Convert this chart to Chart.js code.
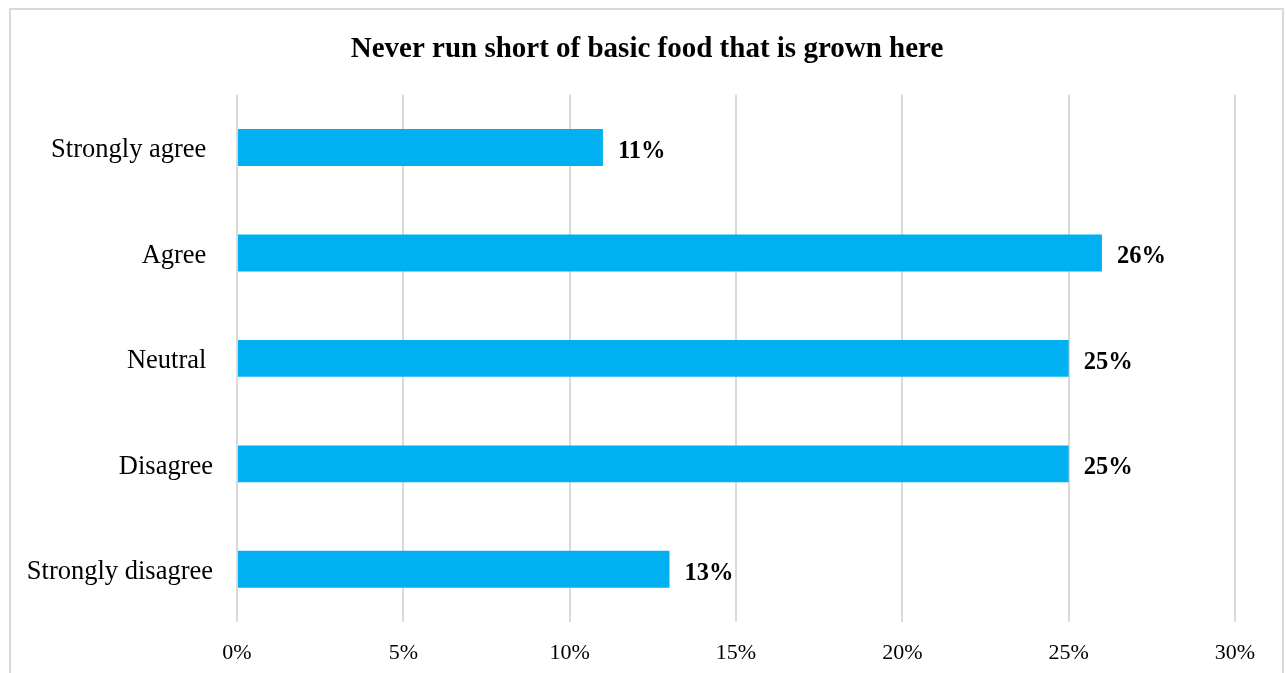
<!DOCTYPE html>
<html>
<head>
<meta charset="utf-8">
<script src="https://cdn.jsdelivr.net/npm/chart.js@4/dist/chart.umd.min.js"></script>
<style>
  html,body{margin:0;padding:0;background:#fff;overflow:hidden}
  #wrap{position:absolute;left:0;top:0;width:1286px;height:673px}
  #frame{position:absolute;left:9px;top:8px;width:1275px;height:700px;border:2px solid #d9d9d9;box-sizing:border-box}
  canvas{position:absolute;left:0;top:0}
</style>
</head>
<body>
<div id="wrap">
  <div id="frame"></div>
  <canvas id="c" width="1286" height="673"></canvas>
</div>
<script>
// categories (trailing spaces kept as in the original labels)
const categories=['Strongly agree ','Agree ','Neutral ','Disagree','Strongly disagree'];
const shares=[11,26,25,25,13];
const xTicks=[0,5,10,15,20,25,30];
const titleText='Never run short of basic food that is grown here';

const FONT="'Liberation Serif','Times New Roman',serif";

// draw the value labels at the end of each bar
const barLabels={
  id:'barLabels',
  afterDatasetsDraw(chart){
    const ctx=chart.ctx, meta=chart.getDatasetMeta(0);
    ctx.save();
    ctx.font='bold 24.5px '+FONT;
    ctx.fillStyle='#000';
    ctx.textAlign='left';
    ctx.textBaseline='middle';
    meta.data.forEach((bar,i)=>{
      ctx.fillText(shares[i]+'%',bar.x+15,bar.y+4);
    });
    ctx.restore();
  }
};

new Chart(document.getElementById('c').getContext('2d'),{
  type:'bar',
  data:{
    labels:categories,
    datasets:[{data:shares,backgroundColor:'#00B0F0',barPercentage:0.35,categoryPercentage:1}]
  },
  options:{
    indexAxis:'y',responsive:false,animation:false,
    layout:{padding:{left:9,right:1,top:0,bottom:0}},
    plugins:{
      legend:{display:false},tooltip:{enabled:false},
      title:{display:true,text:titleText,color:'#000',
        font:{family:FONT,size:29,weight:'bold',lineHeight:1.2},
        padding:{top:32,bottom:28}}
    },
    scales:{
      x:{min:0,max:30,
        afterBuildTicks:s=>{s.ticks=xTicks.map(v=>({value:v}));},
        afterFit:s=>{s.height=51;},
        border:{display:false},
        grid:{color:'#d9d9d9',lineWidth:2,drawTicks:false},
        ticks:{color:'#000',padding:18,font:{family:FONT,size:22},callback:v=>v+'%'}
      },
      y:{
        afterFit:s=>{s.width=228;},
        border:{display:false},
        grid:{display:false,drawTicks:false},
        ticks:{color:'#000',padding:24,labelOffset:3,font:{family:FONT,size:26.5}}
      },
      // empty right-hand spacer so the plot ends at 30% like the original
      yPad:{type:'linear',position:'right',
        afterFit:s=>{s.width=50;},
        border:{display:false},
        grid:{display:false,drawTicks:false},
        ticks:{display:false}
      }
    }
  },
  plugins:[barLabels]
});
</script>
</body>
</html>
